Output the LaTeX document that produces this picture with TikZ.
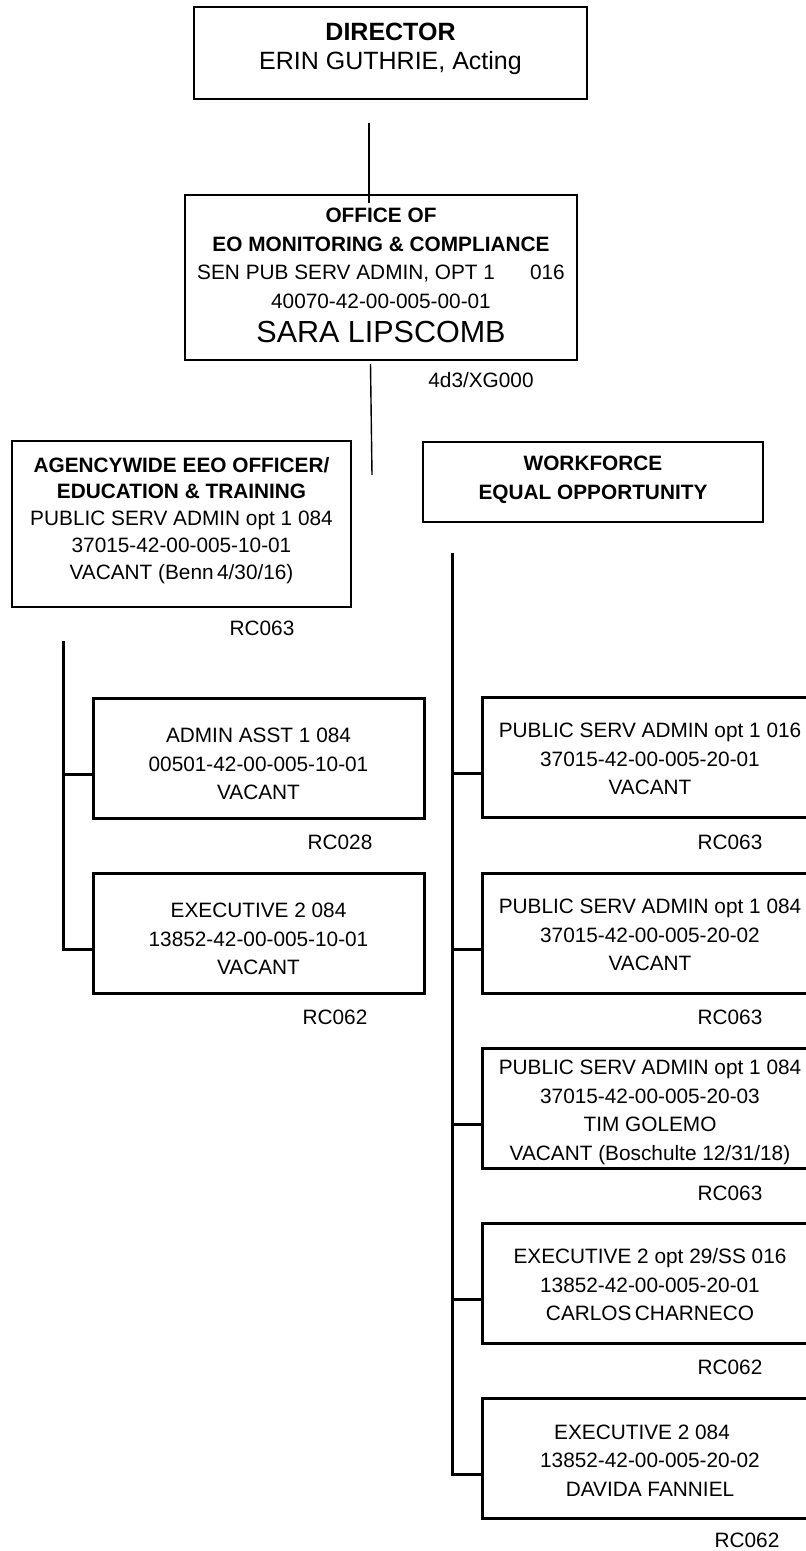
\documentclass[tikz,border=0pt]{standalone}
\usepackage{fontspec}
\setmainfont{Liberation Sans}
\newcommand{\bodysize}{\fontsize{20.8}{28.5}\selectfont}
\newcommand{\padtop}[1]{\rule{0pt}{#1}}
\newcommand{\padbottom}[1]{\rule[-#1]{0pt}{0pt}}
\begin{document}
\begin{tikzpicture}[x=1pt, y=-1pt,
    unitbox/.style={draw, line width=2pt, align=center, inner sep=0pt, font=\bodysize},
    postbox/.style={draw, line width=3pt, align=center, inner sep=0pt, font=\bodysize,
                    minimum width=331pt, minimum height=120pt},
    rcode/.style={font=\bodysize, inner sep=0pt},
    stem/.style={line width=1.4pt},
    trunk/.style={line width=3pt}]
    \useasboundingbox (0,0) rectangle (806,1551);
    \clip (0,0) rectangle (806,1551);

    % Leitung
    \node[unitbox, minimum width=393pt, minimum height=92pt, text depth=13pt] (director) at (390.5,53)
        {\fontsize{25}{33}\selectfont\textbf{DIRECTOR}\\\fontsize{25}{33}\selectfont ERIN GUTHRIE, Acting};
    \node[unitbox, minimum width=392pt, minimum height=165pt] (office) at (381,277.5)
        {\textbf{OFFICE OF}\\\textbf{EO MONITORING \& COMPLIANCE}\\
         SEN PUB SERV ADMIN, OPT 1\hspace{35pt}016\\40070-42-00-005-00-01\\[6pt]
         {\fontsize{30.5}{35}\selectfont SARA LIPSCOMB}\padbottom{4pt}};
    \node[rcode] (officecode) at (481,380) {4d3/XG000};

    \coordinate (dirstem) at (369,123);
    \coordinate (dirend) at (369,203);
    \draw[stem] (dirstem) -- (dirend);
    \coordinate (offstem) at (370.5,364);
    \coordinate (offend) at (372,475);
    \draw[stem] (offstem) -- (offend);

    % Abteilungen
    \node[unitbox, minimum width=339pt, minimum height=166pt] (agency) at (181.5,524)
        {\textbf{AGENCYWIDE EEO OFFICER/}\\[-2.5pt]\textbf{EDUCATION \& TRAINING}\\[-1.5pt]
         PUBLIC SERV ADMIN opt 1 084\\[-1.5pt]37015-42-00-005-10-01\\[-1.5pt]
         VACANT (Benn\,4/30/16)\padbottom{10.5pt}};
    \node[rcode] (agencycode) at (262,628) {RC063};
    \node[unitbox, minimum width=340pt, minimum height=80pt] (workforce) at (593,482)
        {\textbf{WORKFORCE}\\\textbf{EQUAL OPPORTUNITY}\padbottom{9pt}};

    % linke Spalte
    \node[postbox] (adminasst) at (258.5,758)
        {\padtop{27pt}ADMIN ASST 1 084\\00501-42-00-005-10-01\\VACANT};
    \node[rcode] (adminasstcode) at (340,842) {RC028};
    \node[postbox] (execleft) at (258.5,933)
        {\padtop{27pt}EXECUTIVE 2 084\\13852-42-00-005-10-01\\VACANT};
    \node[rcode] (execleftcode) at (335,1017) {RC062};

    \coordinate (lefttop) at (63,641);
    \foreach \post in {adminasst, execleft}
        \coordinate (\post-in) at ([yshift=-16pt]\post.west);
    \draw[trunk] (lefttop) |- (execleft-in);
    \draw[trunk] (lefttop |- adminasst-in) -- (adminasst-in);

    % rechte Spalte
    \node[postbox, minimum width=336pt] (psaone) at (650,757)
        {\padtop{19pt}PUBLIC SERV ADMIN opt 1 016\\37015-42-00-005-20-01\\VACANT};
    \node[rcode] (psaonecode) at (730,842) {RC063};
    \node[postbox, minimum width=336pt] (psatwo) at (650,933)
        {\padtop{19pt}PUBLIC SERV ADMIN opt 1 084\\37015-42-00-005-20-02\\VACANT};
    \node[rcode] (psatwocode) at (730,1017) {RC063};
    \node[postbox, minimum width=336pt] (psathree) at (650,1108)
        {\padtop{23pt}PUBLIC SERV ADMIN opt 1 084\\37015-42-00-005-20-03\\TIM GOLEMO\\VACANT (Boschulte 12/31/18)};
    \node[rcode] (psathreecode) at (730,1193) {RC063};
    \node[postbox, minimum width=336pt] (execone) at (650,1283)
        {\padtop{19pt}EXECUTIVE 2 opt 29/SS 016\\13852-42-00-005-20-01\\CARLOS\,CHARNECO};
    \node[rcode] (execonecode) at (730,1367) {RC062};
    \node[postbox, minimum width=336pt] (exectwo) at (650,1458)
        {\padtop{19pt}EXECUTIVE 2 084\hspace*{16pt}\\13852-42-00-005-20-02\\DAVIDA FANNIEL};
    \node[rcode] (exectwocode) at (747,1540) {RC062};

    \coordinate (righttop) at (452,553);
    \foreach \post in {psaone, psatwo, psathree, execone, exectwo}
        \coordinate (\post-in) at ([yshift=-16pt]\post.west);
    \draw[trunk] (righttop) |- (exectwo-in);
    \foreach \post in {psaone, psatwo, psathree, execone}
        \draw[trunk] (righttop |- \post-in) -- (\post-in);
\end{tikzpicture}
\end{document}
